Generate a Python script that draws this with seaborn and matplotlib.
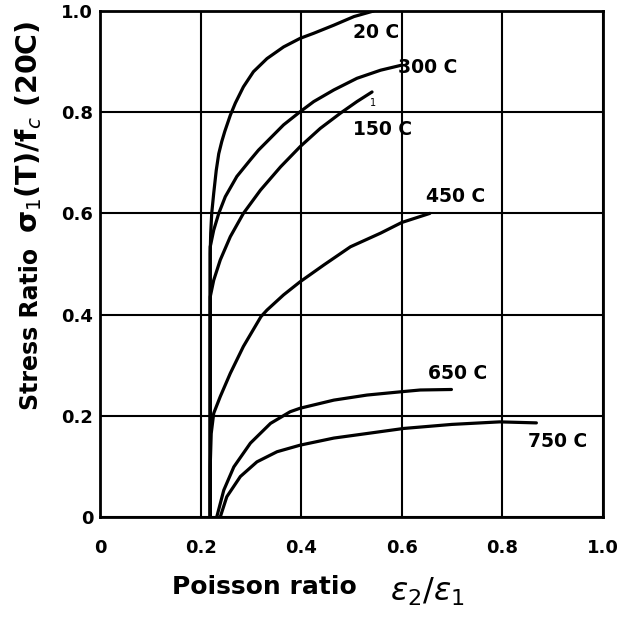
import seaborn as sns
import matplotlib.pyplot as plt

# curves: poisson ratio (x) vs stress ratio (y)
x_20 = [0.219, 0.219, 0.219, 0.220, 0.222, 0.226, 0.231, 0.236, 0.242, 0.248, 0.259, 0.269,
        0.285, 0.305, 0.332, 0.365, 0.398, 0.425, 0.465, 0.505, 0.544]
y_20 = [0.000, 0.300, 0.520, 0.561, 0.600, 0.640, 0.685, 0.718, 0.742, 0.762, 0.794, 0.818,
        0.850, 0.880, 0.906, 0.929, 0.946, 0.956, 0.972, 0.989, 1.000]

x_300 = [0.219, 0.219, 0.219, 0.219, 0.226, 0.236, 0.249, 0.272, 0.299, 0.315, 0.335, 0.365,
         0.398, 0.425, 0.465, 0.511, 0.558, 0.600]
y_300 = [0.000, 0.300, 0.500, 0.534, 0.567, 0.600, 0.633, 0.673, 0.706, 0.725, 0.745, 0.775,
         0.801, 0.821, 0.844, 0.867, 0.883, 0.893]

x_150 = [0.219, 0.219, 0.219, 0.219, 0.226, 0.239, 0.259, 0.285, 0.319, 0.359, 0.398, 0.438,
         0.478, 0.511, 0.541]
y_150 = [0.000, 0.300, 0.420, 0.435, 0.468, 0.508, 0.554, 0.600, 0.646, 0.692, 0.732, 0.768,
         0.798, 0.821, 0.840]

x_450 = [0.219, 0.219, 0.221, 0.226, 0.239, 0.259, 0.285, 0.320, 0.332, 0.365, 0.398, 0.445,
         0.498, 0.558, 0.600, 0.656]
y_450 = [0.000, 0.100, 0.165, 0.205, 0.238, 0.284, 0.337, 0.396, 0.409, 0.439, 0.465, 0.498,
         0.534, 0.561, 0.582, 0.600]

x_650 = [0.232, 0.246, 0.266, 0.299, 0.339, 0.378, 0.398, 0.465, 0.531, 0.604, 0.637, 0.699]
y_650 = [0.000, 0.053, 0.099, 0.146, 0.185, 0.208, 0.215, 0.231, 0.241, 0.248, 0.251, 0.252]

x_750 = [0.239, 0.252, 0.279, 0.312, 0.352, 0.398, 0.465, 0.531, 0.604, 0.700, 0.795, 0.868]
y_750 = [0.000, 0.040, 0.080, 0.109, 0.129, 0.142, 0.156, 0.165, 0.175, 0.183, 0.188, 0.186]

curves = [(x_20, y_20), (x_300, y_300), (x_150, y_150),
          (x_450, y_450), (x_650, y_650), (x_750, y_750)]

# curve labels and where they sit
labels = ['20 C', '300 C', '150 C', '450 C', '650 C', '750 C']
label_x = [0.549, 0.652, 0.561, 0.708, 0.712, 0.911]
label_y = [0.957, 0.889, 0.765, 0.634, 0.283, 0.150]

ticks = [0, 0.2, 0.4, 0.6, 0.8, 1.0]
tick_labels = ['0', '0.2', '0.4', '0.6', '0.8', '1.0']

sns.set_style('white')
plt.rcParams['font.family'] = ['DejaVu Sans']
plt.rcParams['mathtext.fontset'] = 'dejavusans'
for key in ['text.color', 'axes.labelcolor', 'xtick.color', 'ytick.color']:
    plt.rcParams[key] = 'black'

fig = plt.figure(figsize=(6.22, 6.25), dpi=100)
ax = fig.add_axes([0.161, 0.1728, 0.808, 0.8096])

for cx, cy in curves:
    sns.lineplot(x=cx, y=cy, ax=ax, color='black', linewidth=2.3,
                 sort=False, estimator=None, zorder=3)

for txt, lx, ly in zip(labels, label_x, label_y):
    ax.text(lx, ly, txt, ha='center', va='center', fontsize=13.5,
            fontweight='bold', zorder=4)
# stray small mark in the original
ax.text(0.543, 0.818, '1', ha='center', va='center', fontsize=7)

ax.set_xlim(0, 1.0)
ax.set_ylim(0, 1.0)
ax.set_xticks(ticks)
ax.set_yticks(ticks)
ax.set_xticklabels(tick_labels, fontsize=13, fontweight='bold')
ax.set_yticklabels(tick_labels, fontsize=13, fontweight='bold')
ax.tick_params(axis='x', length=0, pad=16)
ax.tick_params(axis='y', length=0, pad=5)

ax.grid(True, color='black', linewidth=1.5)
ax.set_axisbelow(True)
for sp in ax.spines.values():
    sp.set_color('black')
    sp.set_linewidth(2)

# x label: words plus larger strain ratio symbol
ax.set_xlabel('Poisson ratio', fontsize=18, fontweight='bold')
ax.xaxis.set_label_coords(0.327, -0.114)
ax.text(0.577, -0.166, r'$\varepsilon_2/\varepsilon_1$', transform=ax.transAxes,
        fontsize=23, ha='left', va='baseline')

# y label: words plus larger stress ratio expression
ax.set_ylabel('Stress Ratio', fontsize=17, fontweight='bold')
ax.yaxis.set_label_coords(-0.114, 0.3725)
ax.text(-0.125, 0.772, 'σ$_1$(T)/f$_c$ (20C)', transform=ax.transAxes,
        fontsize=20.5, fontweight='bold', rotation=90, rotation_mode='anchor',
        ha='center', va='baseline')

fig.savefig('out.png', dpi=100)
